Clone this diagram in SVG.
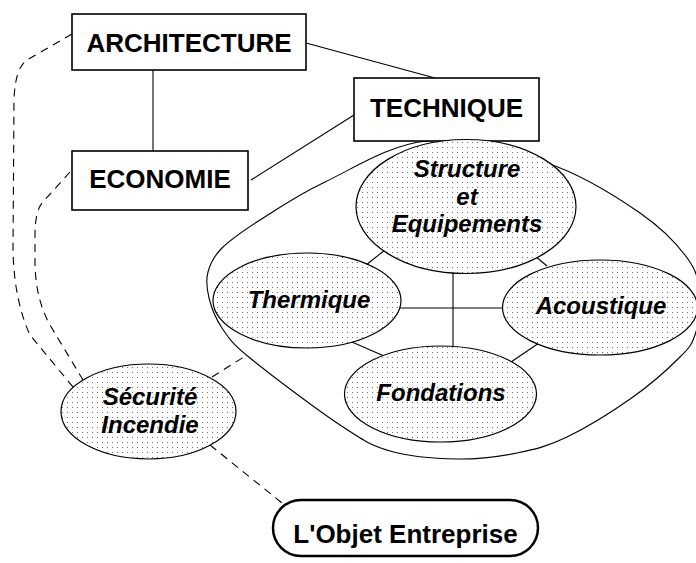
<svg xmlns="http://www.w3.org/2000/svg" width="696" height="563" viewBox="0 0 696 563">
<defs>
<pattern id="dots" width="5" height="5" patternUnits="userSpaceOnUse">
<rect width="5" height="5" fill="#fff"/>
<rect x="2" y="2" width="1" height="1" fill="#707070"/>
</pattern>
<style>
.box{fill:#fff;stroke:#000;stroke-width:1.6}
.ell{fill:url(#dots);stroke:#000;stroke-width:1.2}
.line{fill:none;stroke:#000;stroke-width:1.1}
.dash{fill:none;stroke:#000;stroke-width:1.1;stroke-dasharray:8 6}
.bt{font-family:"Liberation Sans",Arial,sans-serif;font-weight:bold;font-size:26px;text-anchor:middle;fill:#000}
.it{font-family:"Liberation Sans",Arial,sans-serif;font-weight:bold;font-style:italic;font-size:24px;text-anchor:middle;fill:#000}
</style>
</defs>
<rect width="696" height="563" fill="#fff"/>
<g id="blob">
<path class="line" d="M 427,141 C 464,137.8 511.5,151 547,163 C 582.5,175 616.2,196.5 640,213 C 663.8,229.5 680.2,247.5 690,262 C 699.8,276.5 698.2,287.8 699,300 C 699.8,312.2 698.2,325.5 695,335 C 691.8,344.5 690.3,346.7 680,357 C 669.7,367.3 651.8,383.7 633,397 C 614.2,410.3 586.3,427.7 567,437 C 547.7,446.3 535.3,449.3 517,453 C 498.7,456.7 478.2,459.3 457,459 C 435.8,458.7 409.5,456.7 390,451 C 370.5,445.3 363.3,440.5 340,425 C 316.7,409.5 269.7,374.2 250,358 C 230.3,341.8 228.8,338 222,328 C 215.2,318 211.3,307.3 209,298 C 206.7,288.7 205.8,280.3 208,272 C 210.2,263.7 213.3,256.7 222,248 C 230.7,239.3 242.8,231 260,220 C 277.2,209 297.2,195.2 325,182 C 352.8,168.8 390,144.2 427,141 Z"/>
</g>
<g id="connectors">
<line class="line" x1="153" y1="70" x2="153" y2="151"/>
<line class="line" x1="306" y1="43" x2="435" y2="78"/>
<line class="line" x1="251" y1="180" x2="354" y2="115"/>
<line class="line" x1="453" y1="270" x2="453" y2="348"/>
<line class="line" x1="398" y1="308" x2="505" y2="308"/>
<line class="line" x1="366" y1="265" x2="385" y2="250"/>
<line class="line" x1="535" y1="256" x2="547" y2="266"/>
<line class="line" x1="352" y1="342" x2="384" y2="356"/>
<line class="line" x1="511" y1="362" x2="539" y2="343"/>
<path class="dash" d="M 72,34 L 27,60 Q 15,68 14,100 L 13,250 Q 14,300 30,335 L 73,387"/>
<path class="dash" d="M 70,172 L 42,203 Q 35,212 35,235 L 35,265 Q 36,300 50,325 L 83,380"/>
<path class="dash" d="M 212,377 L 247,355"/>
<path class="dash" d="M 210,445 L 282,503"/>
</g>
<g id="architecture">
<rect class="box" x="72" y="14" width="234" height="56"/>
<text class="bt" x="189" y="52">ARCHITECTURE</text>
</g>
<g id="economie">
<rect class="box" x="72" y="151" width="176" height="59"/>
<text class="bt" x="160" y="188">ECONOMIE</text>
</g>
<g id="technique">
<rect class="box" x="354" y="78" width="185" height="63"/>
<text class="bt" x="446.5" y="117">TECHNIQUE</text>
</g>
<g id="structure">
<ellipse class="ell" cx="466" cy="206.5" rx="110" ry="67"/>
<text class="it" x="467" y="177">Structure</text>
<text class="it" x="467" y="205">et</text>
<text class="it" x="467" y="232">Equipements</text>
</g>
<g id="thermique">
<ellipse class="ell" cx="307" cy="300.5" rx="94" ry="47.5"/>
<text class="it" x="309" y="308">Thermique</text>
</g>
<g id="acoustique">
<ellipse class="ell" cx="600" cy="307.5" rx="97.5" ry="47.5"/>
<text class="it" x="601" y="314">Acoustique</text>
</g>
<g id="fondations">
<ellipse class="ell" cx="440.5" cy="394" rx="96" ry="48"/>
<text class="it" x="441" y="401">Fondations</text>
</g>
<g id="securite">
<ellipse class="ell" cx="148.5" cy="411.5" rx="87.5" ry="47.5"/>
<text class="it" x="150" y="405">Sécurité</text>
<text class="it" x="150" y="433">Incendie</text>
</g>
<g id="objet">
<rect x="273" y="500" width="265" height="56" rx="28" ry="28" fill="#fff" stroke="#000" stroke-width="2.5"/>
<text class="bt" x="405.5" y="543">L'Objet Entreprise</text>
</g>
</svg>
